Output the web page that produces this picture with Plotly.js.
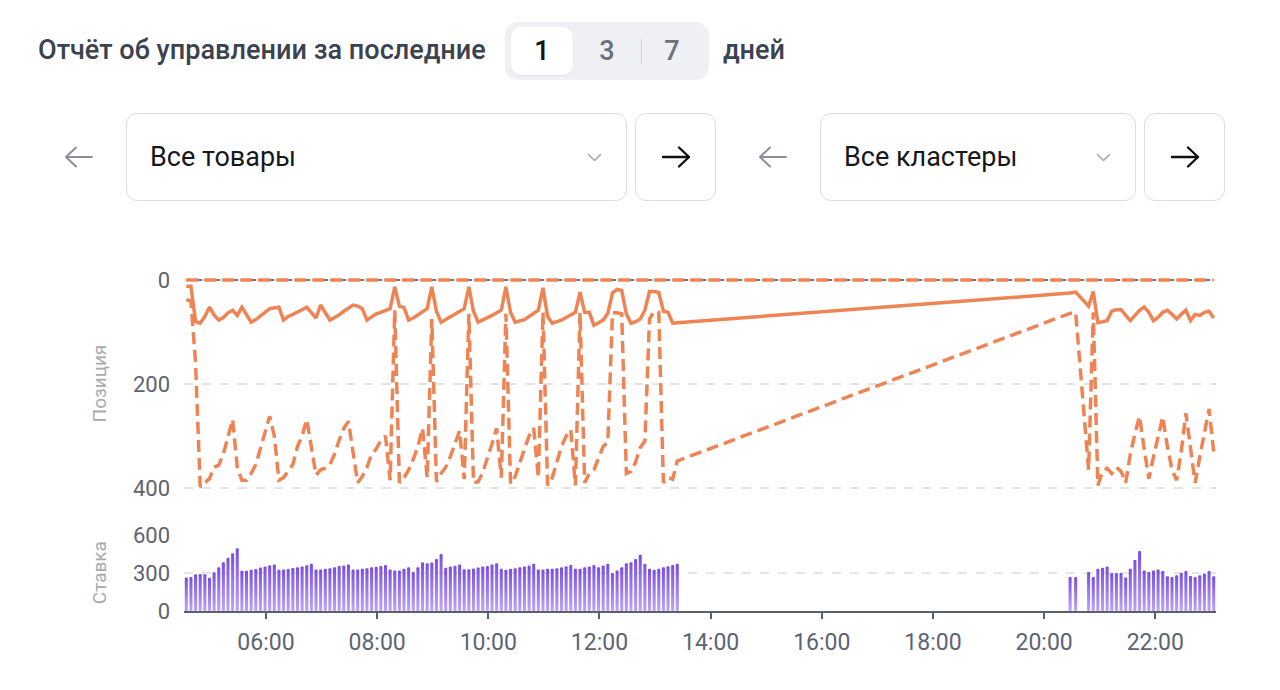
<!DOCTYPE html>
<html lang="ru">
<head>
<meta charset="utf-8">
<title>Отчёт об управлении</title>
<script src="https://cdn.plot.ly/plotly-3.0.1.min.js"></script>
<style>
  html, body { margin: 0; padding: 0; background: #fff; }
  body { width: 1280px; height: 690px; position: relative; overflow: hidden;
         font-family: Roboto, "Noto Sans", "DejaVu Sans", sans-serif; }
  #chart { position: absolute; left: 0; top: 0; width: 1280px; height: 690px; }
  .label { position: absolute; font-family: "Roboto Medium", Roboto, sans-serif; font-size: 27px; font-weight: 500; color: #3b4350;
           line-height: 32px; white-space: nowrap; }
  .seg { position: absolute; left: 505px; top: 22px; width: 204px; height: 58px;
         border-radius: 13px; background: #eef0f3; }
  .seg .pill { position: absolute; left: 6px; top: 5px; width: 62px; height: 48px;
               border-radius: 10px; background: #fff; box-shadow: 0 1px 2px rgba(0,0,0,0.06); }
  .seg .opt { position: absolute; top: 0; height: 58px; line-height: 58px; font-size: 27px;
              font-family: "Roboto Medium", Roboto, sans-serif;
              font-weight: 500; text-align: center; width: 40px; color: #6b7180; }
  .seg .opt.active { color: #111; }
  .seg .divider { position: absolute; left: 136px; top: 17px; width: 1px; height: 25px; background: #cfd2d8; }
  .box { position: absolute; top: 113px; height: 86px; border: 1.5px solid #dcdee3; border-radius: 11px; background: #fff; }
  .box .txt { position: absolute; left: 23px; top: 0; height: 86px; line-height: 86px; font-size: 27px; color: #16181c; }
  svg.icon { position: absolute; overflow: visible; }
</style>
</head>
<body>
<div id="chart"></div>

<div class="label" style="left:38px; top:34px;">Отчёт об управлении за последние</div>
<div class="seg">
  <div class="pill"></div>
  <div class="opt active" style="left:17px;">1</div>
  <div class="opt" style="left:82px;">3</div>
  <div class="divider"></div>
  <div class="opt" style="left:147px;">7</div>
</div>
<div class="label" style="left:723px; top:34px;">дней</div>

<!-- product selector -->
<svg class="icon" style="left:64px; top:146px;" width="30" height="22">
  <path d="M2 11 H28 M2 11 L12 1.5 M2 11 L12 20.5" stroke="#8b9098" stroke-width="2" fill="none" stroke-linecap="round" stroke-linejoin="round"/>
</svg>
<div class="box" style="left:126px; width:499px;">
  <div class="txt">Все товары</div>
  <svg class="icon" style="left:460px; top:39px;" width="16" height="10">
    <path d="M1.5 1.5 L7.5 7.5 L13.5 1.5" stroke="#a3a8b0" stroke-width="1.6" fill="none" stroke-linecap="round" stroke-linejoin="round"/>
  </svg>
</div>
<div class="box" style="left:635px; width:79px;">
  <svg class="icon" style="left:25px; top:32px;" width="30" height="22">
    <path d="M2 11 H28 M28 11 L18 1.5 M28 11 L18 20.5" stroke="#111" stroke-width="2.4" fill="none" stroke-linecap="round" stroke-linejoin="round"/>
  </svg>
</div>

<!-- cluster selector -->
<svg class="icon" style="left:758px; top:146px;" width="30" height="22">
  <path d="M2 11 H28 M2 11 L12 1.5 M2 11 L12 20.5" stroke="#8b9098" stroke-width="2" fill="none" stroke-linecap="round" stroke-linejoin="round"/>
</svg>
<div class="box" style="left:820px; width:314px;">
  <div class="txt">Все кластеры</div>
  <svg class="icon" style="left:275px; top:39px;" width="16" height="10">
    <path d="M1.5 1.5 L7.5 7.5 L13.5 1.5" stroke="#a3a8b0" stroke-width="1.6" fill="none" stroke-linecap="round" stroke-linejoin="round"/>
  </svg>
</div>
<div class="box" style="left:1144px; width:79px;">
  <svg class="icon" style="left:25px; top:32px;" width="30" height="22">
    <path d="M2 11 H28 M28 11 L18 1.5 M28 11 L18 20.5" stroke="#111" stroke-width="2.4" fill="none" stroke-linecap="round" stroke-linejoin="round"/>
  </svg>
</div>

<script>
// Reporting day and sampling (one reading every 5 minutes)
const reportDay = '2024-06-03';
const morningStart = '04:34';   // first block: 04:34 .. 13:24
const eveningTimes = ['20:28', '20:34', '20:48', '20:53', '20:58', '21:03', '21:08', '21:13',
  '21:18', '21:23', '21:28', '21:33', '21:38', '21:43', '21:48', '21:53', '21:58', '22:03',
  '22:08', '22:13', '22:18', '22:23', '22:28', '22:33', '22:38', '22:43', '22:48', '22:53',
  '22:58', '23:03'];

// Position of the leading query (solid line), morning block
const positionMainA = [
  12, 12, 80, 83, 70, 52, 67, 77, 72, 63,
  58, 68, 52, 68, 81, 76, 68, 62, 55, 53,
  52, 77, 70, 66, 62, 57, 52, 62, 73, 48,
  64, 77, 72, 67, 60, 54, 48, 50, 55, 77,
  71, 65, 62, 58, 55, 13, 50, 53, 77, 73,
  67, 62, 55, 13, 60, 81, 76, 71, 66, 60,
  55, 13, 60, 81, 77, 73, 68, 63, 58, 13,
  62, 81, 78, 76, 70, 63, 58, 15, 70, 83,
  80, 77, 72, 66, 62, 23, 62, 62, 87, 82,
  77, 64, 25, 18, 20, 65, 83, 80, 75, 58,
  22, 22, 24, 60, 62, 83, 82
];
// Position of the secondary query (dashed line), morning block
const positionAltA = [
  38, 40, 160, 398, 390, 382, 360, 356, 335, 300,
  268, 360, 385, 385, 372, 355, 325, 295, 262, 300,
  385, 380, 366, 355, 320, 300, 268, 320, 375, 365,
  362, 355, 335, 308, 285, 272, 335, 390, 378, 360,
  335, 325, 308, 300, 385, 58, 390, 380, 365, 345,
  320, 285, 380, 75, 388, 372, 360, 340, 315, 290,
  383, 65, 390, 388, 370, 345, 315, 285, 380, 65,
  392, 378, 350, 325, 300, 285, 380, 62, 395, 380,
  350, 320, 300, 288, 395, 63, 390, 372, 365, 340,
  320, 313, 63, 63, 65, 372, 368, 350, 322, 310,
  75, 60, 62, 390, 380, 383, 348
];
// Bid, morning block
const bidA = [
  265, 268, 290, 292, 290, 262, 305, 345, 385, 420, 455, 495,
  318, 318, 325, 332, 343, 352, 362, 366,
  325, 327, 332, 340, 345, 352, 362, 372,
  328, 328, 333, 338, 345, 355, 360, 367,
  328, 328, 333, 338, 345, 350, 356, 364,
  328, 320, 320, 333, 345, 308, 345, 385, 377, 382, 410, 449,
  341, 351, 358, 366,
  330, 330, 336, 344, 351, 356, 366,
  377, 333, 326, 333, 338, 346, 351, 359, 372,
  328, 328, 333, 333, 338, 346, 354, 364,
  333, 333, 346, 351, 364, 346, 359, 372,
  300, 320, 346, 377, 385, 410, 444,
  372, 333, 326, 333, 346, 354, 364, 372
];

// Evening block
const positionMainB = [25, 23, 50, 22, 82, 80, 78, 60, 57, 57, 68, 78, 68, 58, 52, 62, 78, 72,
  62, 58, 66, 75, 66, 58, 78, 66, 68, 62, 60, 73];
const positionAltB = [64, 62, 365, 62, 395, 368, 362, 372, 360, 368, 390, 335, 295, 262, 325,
  382, 340, 298, 263, 320, 365, 385, 330, 256, 320, 390, 340, 290, 248, 330];
const bidB = [269, 269, 308, 269, 333, 341, 351, 300, 300, 300, 264, 333, 403, 474, 320, 308,
  320, 328, 315, 274, 269, 282, 300, 315, 277, 269, 282, 295, 315, 274];

// Queries that are out of the listing are shown at position 0
const positionZero = [0, 0];

// Axis labels
const positionTicks = [0, 200, 400];
const bidTicks = [0, 300, 600];

function stamp(hhmm) { return reportDay + ' ' + hhmm; }
function everyFiveMinutes(startHHMM, count) {
  const [h, m] = startHHMM.split(':').map(Number);
  const out = [];
  for (let k = 0; k < count; k++) {
    const t = h * 60 + m + k * 5;
    const hh = String(Math.floor(t / 60)).padStart(2, '0');
    const mm = String(t % 60).padStart(2, '0');
    out.push(stamp(hh + ':' + mm));
  }
  return out;
}

const timesA = everyFiveMinutes(morningStart, positionMainA.length);
const timesB = eveningTimes.map(stamp);
const times = timesA.concat(timesB);
const zeroTimes = [times[0], times[times.length - 1]];

const ORANGE = '#ee8454';
const TEXT = '#5d6471';
const GRID = '#e2e4e8';
const DASH = '12px,6px';

const traces = [
  {
    type: 'scatter', mode: 'lines', name: 'Позиция — вне выдачи',
    x: zeroTimes, y: positionZero, xaxis: 'x', yaxis: 'y2',
    line: { color: ORANGE, width: 3.5, dash: DASH }, hoverinfo: 'skip'
  },
  {
    type: 'scatter', mode: 'lines', name: 'Позиция — запрос 2',
    x: times, y: positionAltA.concat(positionAltB), xaxis: 'x', yaxis: 'y2',
    line: { color: ORANGE, width: 3.5, dash: DASH }
  },
  {
    type: 'scatter', mode: 'lines', name: 'Позиция — запрос 1',
    x: times, y: positionMainA.concat(positionMainB), xaxis: 'x', yaxis: 'y2',
    line: { color: ORANGE, width: 3.5 }
  },
  {
    type: 'bar', name: 'Ставка',
    x: times, y: bidA.concat(bidB), xaxis: 'x', yaxis: 'y',
    marker: { color: '#9270ee', cornerradius: 1.5, line: { width: 0 } }
  }
];

const layout = {
  width: 1280, height: 690,
  margin: { l: 184, r: 64, t: 278, b: 79, pad: 0 },
  paper_bgcolor: '#ffffff', plot_bgcolor: '#ffffff',
  showlegend: false,
  bargap: 0.34,
  font: { family: 'Roboto, "Noto Sans", sans-serif', color: TEXT },
  xaxis: {
    type: 'date', anchor: 'y',
    range: [stamp('04:31:30'), stamp('23:05:30')],
    tick0: stamp('00:00'), dtick: 2 * 3600 * 1000, tickformat: '%H:%M',
    showgrid: false, zeroline: false,
    showline: true, linecolor: '#5b616c', linewidth: 2,
    ticks: 'outside', ticklen: 6, tickwidth: 2, tickcolor: '#5b616c',
    tickfont: { size: 23, color: TEXT }, ticklabelstandoff: 3,
    fixedrange: true
  },
  yaxis: {
    domain: [0, 0.2306], range: [0, 606], tickvals: bidTicks,
    showgrid: true, gridcolor: GRID, griddash: 'dash', gridwidth: 1.2,
    zeroline: false, showline: false, ticks: '',
    tickfont: { size: 22, color: TEXT }, ticklabelstandoff: 13,
    title: { text: 'Ставка', font: { size: 19, color: '#a6aab1' }, standoff: 21 },
    automargin: false, fixedrange: true
  },
  yaxis2: {
    domain: [0.3662, 1], anchor: 'x', range: [402, -4], tickvals: positionTicks,
    showgrid: true, gridcolor: GRID, griddash: 'dash', gridwidth: 1.2,
    zeroline: false, showline: false, ticks: '',
    tickfont: { size: 22, color: TEXT }, ticklabelstandoff: 13,
    title: { text: 'Позиция', font: { size: 19, color: '#a6aab1' }, standoff: 21 },
    automargin: false, fixedrange: true
  },
  shapes: [
    { type: 'line', xref: 'paper', x0: 0, x1: 1, yref: 'y2', y0: 0, y1: 0,
      line: { color: '#3e4a5e', width: 1.5 }, layer: 'below' }
  ]
};

Plotly.newPlot('chart', traces, layout, { displayModeBar: false, staticPlot: true }).then(gd => {
  // vertical purple fade on each bid bar
  const svg = gd.querySelector('svg.main-svg');
  const ns = 'http://www.w3.org/2000/svg';
  let defs = svg.querySelector('defs');
  if (!defs) { defs = document.createElementNS(ns, 'defs'); svg.insertBefore(defs, svg.firstChild); }
  const grad = document.createElementNS(ns, 'linearGradient');
  grad.setAttribute('id', 'bidFade');
  grad.setAttribute('x1', '0'); grad.setAttribute('y1', '0');
  grad.setAttribute('x2', '0'); grad.setAttribute('y2', '1');
  [['0', '#7a4de2'], ['1', '#bca4f8']].forEach(([o, c]) => {
    const s = document.createElementNS(ns, 'stop');
    s.setAttribute('offset', o); s.setAttribute('stop-color', c);
    grad.appendChild(s);
  });
  defs.appendChild(grad);
  gd.querySelectorAll('.barlayer .point path').forEach(p => { p.style.fill = 'url(#bidFade)'; });
});
</script>
</body>
</html>
